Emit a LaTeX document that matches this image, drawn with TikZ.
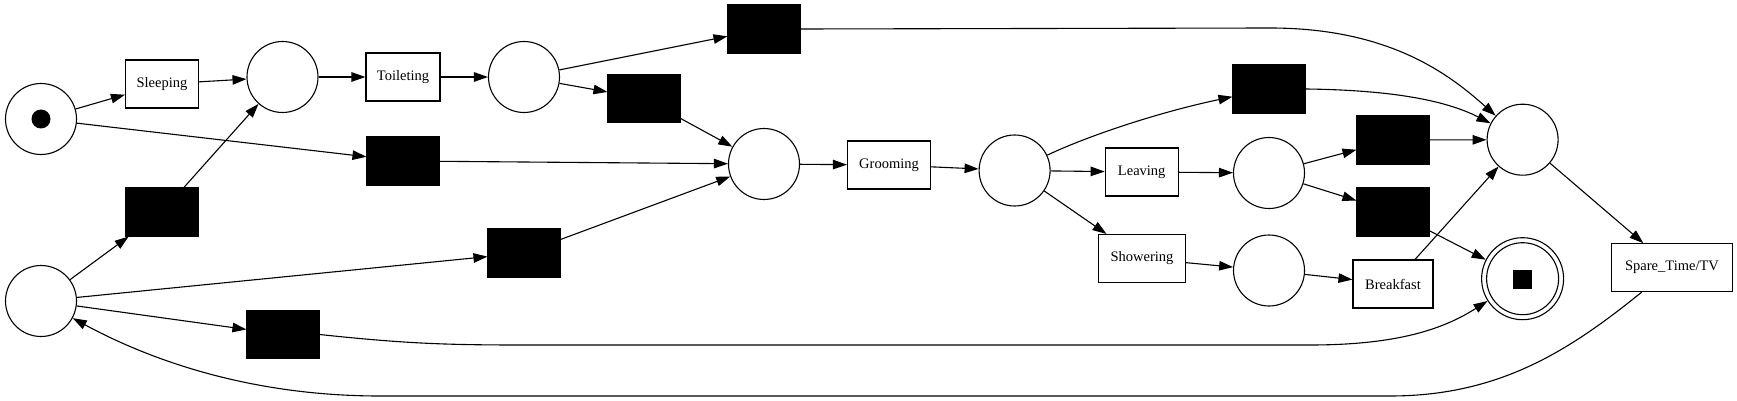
\documentclass[tikz,border=0pt]{standalone}
\usepackage{fontspec}
\setmainfont{Liberation Serif}
\usetikzlibrary{arrows.meta}
\begin{document}
\begin{tikzpicture}[x=1pt,y=-1pt,
  every node/.style={inner sep=0pt},
  place/.style={circle,draw,line width=1.1pt,minimum size=71pt},
  tau/.style={rectangle,draw,fill=black,line width=1.1pt,minimum width=72pt,minimum height=48pt},
  trans/.style={rectangle,draw,line width=1.1pt,minimum height=48pt,font=\fontsize{14.5}{17}\selectfont},
  arr/.style={line width=1.1pt,-{Triangle[length=14pt,width=9.5pt]}},
]
\useasboundingbox (0,0) rectangle (1737,401);
% nodes
\node[place] (ps) at (41,119) {};
\node[circle,fill=black,minimum size=19pt] (tok) at (41,119) {};
\node[trans,minimum width=73pt] (sleep) at (162,84) {Sleeping};
\node[place] (p1) at (282.5,77) {};
\node[trans,minimum width=74pt] (toil) at (403,77) {Toileting};
\node[place] (p2) at (524,77) {};
\node[tau] (th1) at (162,212) {};
\node[tau] (tmid) at (403,161) {};
\node[place] (pb) at (41,301) {};
\node[tau] (tlow) at (283,334.5) {};
\node[tau] (tml) at (524,253) {};
\node[tau] (ttop) at (764,29) {};
\node[tau] (ttop2) at (644,98.5) {};
\node[place] (pg) at (764,164) {};
\node[trans,minimum width=83pt] (groom) at (889,165) {Grooming};
\node[place] (pag) at (1014.6,170.5) {};
\node[trans,minimum width=73pt] (leave) at (1141.7,172) {Leaving};
\node[trans,minimum width=87pt] (shower) at (1142,258.5) {Showering};
\node[tau] (ttop3) at (1269,89) {};
\node[place] (pl) at (1269,173) {};
\node[place] (psh) at (1269,270.5) {};
\node[tau] (tlt) at (1393,140) {};
\node[tau] (tlb) at (1393,212) {};
\node[trans,minimum width=80pt] (bfast) at (1393,284) {Breakfast};
\node[place] (pj) at (1522.6,139.7) {};
\node[circle,draw,line width=1.1pt,minimum size=82pt] (pe) at (1522.6,278.7) {};
\node[circle,draw,line width=1.1pt,minimum size=72pt] (pein) at (1522.6,278.7) {};
\node[rectangle,fill=black,minimum size=19pt] (esq) at (1522,279) {};
\node[trans,minimum width=121pt] (spare) at (1672,267.7) {Spare\_Time/TV};
% edges
\draw[arr] (ps) -- (sleep);
\draw[arr] (ps) -- (tmid);
\draw[arr] (sleep) -- (p1);
\draw[arr] (p1) -- (toil);
\draw[arr] (toil) -- (p2);
\draw[arr] (p2) -- (ttop);
\draw[arr] (p2) -- (ttop2);
\draw[arr] (ttop2) -- (pg);
\draw[arr] (tmid) -- (pg);
\draw[arr] (tml) -- (pg);
\draw[arr] (pb) -- (th1);
\draw[arr] (th1) -- (p1);
\draw[arr] (pb) -- (tml);
\draw[arr] (pb) -- (tlow);
\draw[arr] (tlow.east) .. controls (400,343) and (440,345) .. (520,345) -- (1310,345) .. controls (1400,345) and (1445,328) .. (pe);
\draw[arr] (pg) -- (groom);
\draw[arr] (groom) -- (pag);
\draw[arr] (pag) .. controls (1090,135) and (1160,112) .. (ttop3);
\draw[arr] (pag) -- (leave);
\draw[arr] (pag) -- (shower);
\draw[arr] (leave) -- (pl);
\draw[arr] (shower) -- (psh);
\draw[arr] (psh) -- (bfast);
\draw[arr] (pl) -- (tlt);
\draw[arr] (pl) -- (tlb);
\draw[arr] (tlt) -- (pj);
\draw[arr] (tlb) -- (pe);
\draw[arr] (bfast) -- (pj);
\draw[arr] (ttop3.east) .. controls (1390,90) and (1445,100) .. (pj);
\draw[arr] (ttop.east) -- (1270,28) .. controls (1390,28) and (1450,75) .. (pj);
\draw[arr] (pj) -- (spare);
\draw[arr] (spare) .. controls (1570,350) and (1500,396) .. (1390,396) -- (380,396) .. controls (250,396) and (150,360) .. (pb);
\end{tikzpicture}
\end{document}
